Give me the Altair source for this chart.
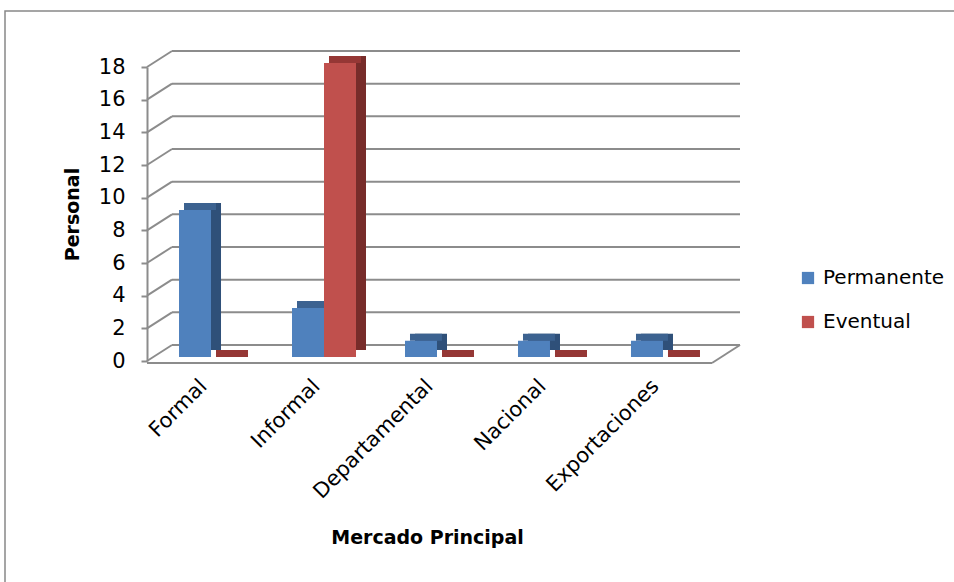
import altair as alt
import pandas as pd

categorias = ["Formal", "Informal", "Departamental", "Nacional", "Exportaciones"]
permanente = [9, 3, 1, 1, 1]
eventual = [0, 18, 0, 0, 0]
series = ["Permanente", "Eventual"]
colores = ["#4F81BD", "#C0504D"]
colores_techo = ["#3C6290", "#953735"]
colores_lado = ["#2F5079", "#772C2A"]
marcas_y = [0, 2, 4, 6, 8, 10, 12, 14, 16, 18]

FONT = "DejaVu Sans"
GRIS = "#8C8C8C"

rows = []
for c, p, e in zip(categorias, permanente, eventual):
    rows.append({"Mercado": c, "Serie": "Permanente", "Valor": p})
    rows.append({"Mercado": c, "Serie": "Eventual", "Valor": e})
df = pd.DataFrame(rows)
grid = pd.DataFrame({"Valor": marcas_y})
cero = pd.DataFrame({"Valor": marcas_y[:1]})

W, H = 593, 294
xscale = alt.Scale(domain=categorias, paddingInner=0, paddingOuter=0.124, align=0.268)
yscale = alt.Scale(domain=[0, 18], nice=False)
cscale = alt.Scale(domain=series, range=colores)

xax = alt.Axis(labelAngle=-45, domain=False, ticks=False, labelFontSize=21,
               labelFont=FONT, labelColor="#000", labelPadding=14, labelOffset=-15,
               title="Mercado Principal", titleFont=FONT, titleFontSize=19,
               titleFontWeight="bold", titleColor="#000", titleX=280,
               titleY=176, titleBaseline="middle")
yax = alt.Axis(values=marcas_y, grid=False, domainColor=GRIS, domainWidth=2,
               tickColor=GRIS, tickWidth=2, tickSize=6, labelFontSize=21,
               labelFont=FONT, labelColor="#000", labelPadding=16,
               title="Personal", titleFont=FONT, titleFontSize=19,
               titleFontWeight="bold", titleColor="#000", titleX=-75,
               titleY=147, titleBaseline="middle", titleAlign="center",
               titleAngle=270)

X = alt.X("Mercado:N", scale=xscale, axis=xax)
Y = alt.Y("Valor:Q", scale=yscale, axis=yax)

DX, DY, LIFT = 10, 7, 4

# back wall gridlines
back = alt.Chart(grid).mark_rule(color=GRIS, strokeWidth=2, yOffset=-16).encode(
    y=Y, x=alt.value(25), x2=alt.value(W),
)
# side wall diagonals
side = alt.Chart(grid).mark_rule(color=GRIS, strokeWidth=2, y2Offset=-16).encode(
    y=Y, y2="Valor:Q", x=alt.value(0), x2=alt.value(25),
)
floor_front = alt.Chart(cero).mark_rule(color=GRIS, strokeWidth=2, yOffset=2).encode(
    y=Y, x=alt.value(0), x2=alt.value(W - 28),
)
floor_right = alt.Chart(cero).mark_rule(color=GRIS, strokeWidth=2, yOffset=2, y2Offset=-16).encode(
    y=Y, y2="Valor:Q", x=alt.value(W - 28), x2=alt.value(W),
)

layers = [back, side, floor_front, floor_right]

offs = {"Permanente": -16, "Eventual": 16}
for s, ct, cl in zip(series, colores_techo, colores_lado):
    base = alt.Chart(df).transform_filter(alt.datum.Serie == s)
    lado = base.mark_bar(width=32, xOffset=offs[s] + DX, yOffset=-LIFT - DY,
                         y2Offset=-LIFT, color=cl).encode(x=X, y=Y)
    techo = base.mark_bar(width=32, xOffset=offs[s] + DX / 2, yOffset=-LIFT - DY,
                          y2Offset=-LIFT, color=ct).encode(x=X, y=Y, y2="Valor:Q")
    layers += [lado, techo]

for s in series:
    base = alt.Chart(df).transform_filter(alt.datum.Serie == s)
    front = base.mark_bar(width=32, xOffset=offs[s], yOffset=-LIFT, y2Offset=-LIFT).encode(
        x=X, y=Y,
        color=alt.Color("Serie:N", scale=cscale, legend=alt.Legend(
            title=None, orient="none", legendX=651, legendY=201,
            symbolType="square", symbolSize=150, symbolStrokeWidth=0,
            labelFont=FONT, labelFontSize=20, labelColor="#000",
            rowPadding=24, labelOffset=5)),
    )
    layers.append(front)

frame = alt.Chart(cero).mark_rect(filled=False, stroke="#888888", strokeWidth=1.5).encode(
    x=alt.value(-142), x2=alt.value(954 - 147 + 20),
    y=alt.value(-56), y2=alt.value(582 - 67 + 20),
)
layers.append(frame)

chart = alt.layer(*layers).properties(
    width=W, height=H,
    autosize=alt.AutoSizeParams(type="none"),
    padding={"left": 147, "top": 67, "right": 954 - 147 - W, "bottom": 582 - 67 - H},
    background="white",
).configure_view(stroke=None)

chart.save("out.html", embed_options={"renderer": "svg", "actions": False})
